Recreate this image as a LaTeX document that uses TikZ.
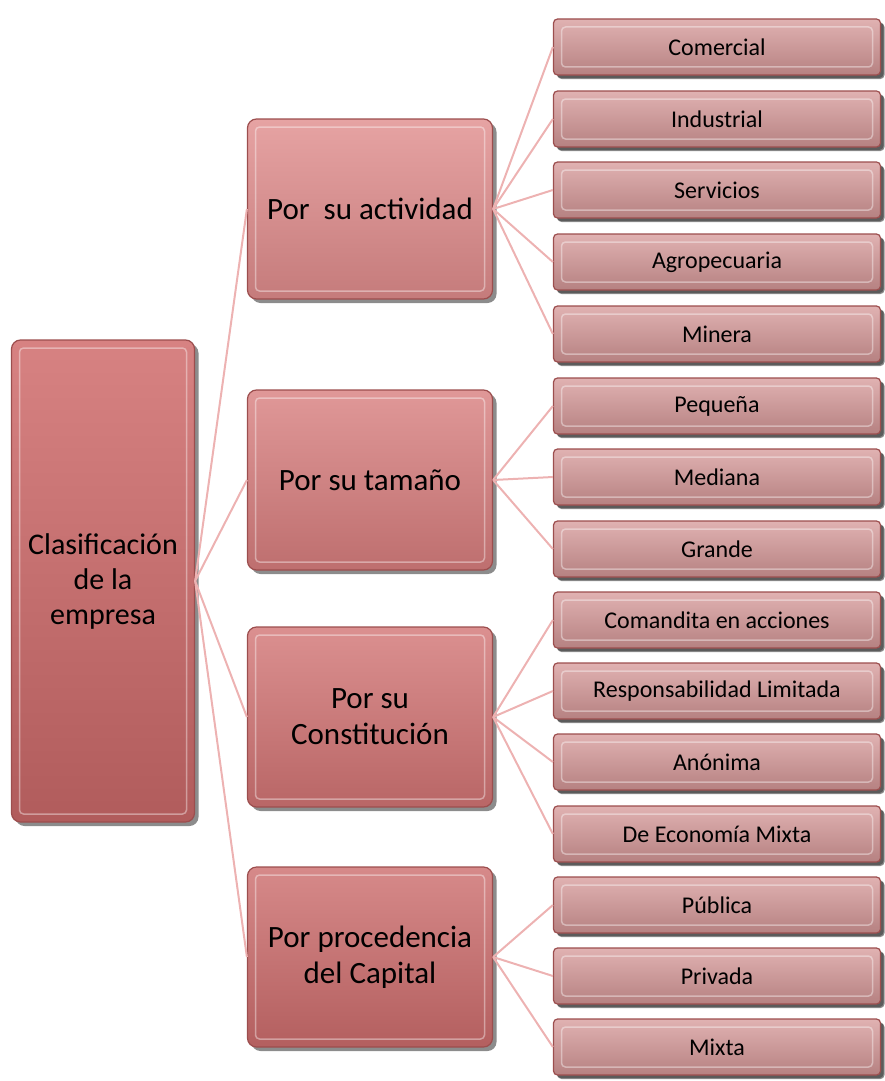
\documentclass[tikz,border=0pt]{standalone}
\usepackage{fontspec}
\setmainfont{Carlito}
\usetikzlibrary{shadows}

\definecolor{borde}{HTML}{9C4E4E}
\definecolor{linea}{HTML}{EDB2B2}
\definecolor{craiz}{HTML}{D06C6C}
\definecolor{cact}{HTML}{E08C8C}
\definecolor{ctam}{HTML}{D87E7E}
\definecolor{ccons}{HTML}{D27474}
\definecolor{ccap}{HTML}{CC6C6C}
\definecolor{choja}{HTML}{D69898}

\tikzset{
    caja/.style={rounded corners=9pt, draw=borde, line width=1.2pt, align=center, inner sep=0pt,
        drop shadow={shadow xshift=4pt, shadow yshift=-4pt, opacity=.45, fill=black},
        path picture={\draw[white, opacity=.4, line width=1.5pt, rounded corners=4pt]
            ([shift={(8pt,-8pt)}]path picture bounding box.north west) rectangle
            ([shift={(-8pt,8pt)}]path picture bounding box.south east);}},
    raiz/.style={caja, minimum width=183pt, minimum height=482pt, top color=#1!85!white, bottom color=#1!85!black,
        font=\fontsize{30}{35}\selectfont},
    grupo/.style={caja, minimum width=245pt, minimum height=180pt, top color=#1!80!white, bottom color=#1!88!black,
        font=\fontsize{31}{36}\selectfont},
    hoja/.style={caja, rounded corners=4pt, minimum width=327pt, minimum height=56pt,
        top color=choja!75!white, bottom color=choja!85!black, font=\fontsize{24}{28}\selectfont,
        drop shadow={shadow xshift=3pt, shadow yshift=-3pt, opacity=.35, fill=black}},
    conector/.style={draw=linea, line width=2pt}
}

\begin{document}
\begin{tikzpicture}[x=1pt,y=-1pt]
    \useasboundingbox (0,0) rectangle (884,1081);

    % nodo principal
    \node[raiz=craiz] (raiz) at (103,581) {Clasificaci\'on\\de la\\empresa};

    % criterios
    \node[grupo=cact] (act) at (370,209) {Por\ \ su actividad};
    \node[grupo=ctam] (tam) at (370,480) {Por su tama\~no};
    \node[grupo=ccons] (cons) at (370,717) {Por su\\Constituci\'on};
    \node[grupo=ccap] (cap) at (370,957) {Por procedencia\\del Capital};

    % tipos
    \node[hoja] (comercial) at (717,47) {Comercial};
    \node[hoja] (industrial) at (717,119) {Industrial};
    \node[hoja] (servicios) at (717,190) {Servicios};
    \node[hoja] (agro) at (717,262) {Agropecuaria};
    \node[hoja] (minera) at (717,334) {Minera};
    \node[hoja] (pequena) at (717,406) {Peque\~na};
    \node[hoja] (mediana) at (717,477) {Mediana};
    \node[hoja] (grande) at (717,549) {Grande};
    \node[hoja] (comandita) at (717,620) {Comandita en acciones};
    \node[hoja] (limitada) at (717,691) {Responsabilidad Limitada};
    \node[hoja] (anonima) at (717,762) {An\'onima};
    \node[hoja] (mixta) at (717,834) {De Econom\'ia Mixta};
    \node[hoja] (publica) at (717,905) {P\'ublica};
    \node[hoja] (privada) at (717,976) {Privada};
    \node[hoja] (capmixta) at (717,1047) {Mixta};

    % conectores
    \draw[conector] (raiz.east) -- (act.west);
    \draw[conector] (raiz.east) -- (tam.west);
    \draw[conector] (raiz.east) -- (cons.west);
    \draw[conector] (raiz.east) -- (cap.west);

    \draw[conector] (act.east) -- (comercial.west);
    \draw[conector] (act.east) -- (industrial.west);
    \draw[conector] (act.east) -- (servicios.west);
    \draw[conector] (act.east) -- (agro.west);
    \draw[conector] (act.east) -- (minera.west);

    \draw[conector] (tam.east) -- (pequena.west);
    \draw[conector] (tam.east) -- (mediana.west);
    \draw[conector] (tam.east) -- (grande.west);

    \draw[conector] (cons.east) -- (comandita.west);
    \draw[conector] (cons.east) -- (limitada.west);
    \draw[conector] (cons.east) -- (anonima.west);
    \draw[conector] (cons.east) -- (mixta.west);

    \draw[conector] (cap.east) -- (publica.west);
    \draw[conector] (cap.east) -- (privada.west);
    \draw[conector] (cap.east) -- (capmixta.west);
\end{tikzpicture}
\end{document}
